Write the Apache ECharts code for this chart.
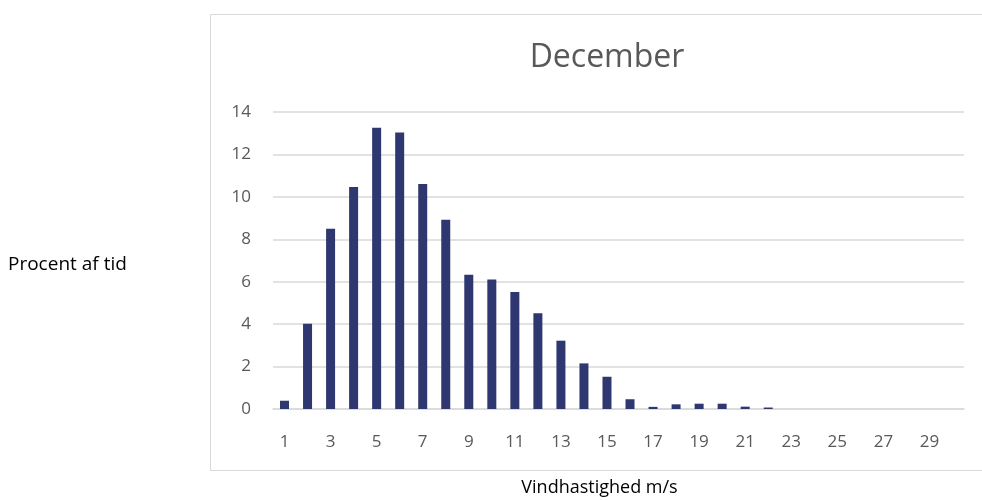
<!DOCTYPE html>
<html>
<head>
<meta charset="utf-8">
<script src="https://cdn.jsdelivr.net/npm/echarts@6/dist/echarts.min.js"></script>
<style>html,body{margin:0;padding:0;background:#fff}#c{width:982px;height:500px}</style>
</head>
<body>
<div id="c"></div>
<script>
var categories = ['1','2','3','4','5','6','7','8','9','10','11','12','13','14','15','16','17','18','19','20','21','22','23','24','25','26','27','28','29','30'];
var values = [0.39,4.02,8.5,10.47,13.26,13.03,10.61,8.92,6.33,6.1,5.52,4.51,3.22,2.15,1.52,0.46,0.1,0.22,0.25,0.25,0.11,0.07,0,0,0,0,0,0,0,0];
var yTicks = {min:0, max:14, interval:2};

var chart = echarts.init(document.getElementById('c'));
chart.setOption({
  animation:false,
  title:{text:'December', left:602, top:37, textAlign:'center',
    textStyle:{fontFamily:'Open Sans', fontSize:32, fontWeight:'normal', color:'#595959'}},
  graphic:[
    {type:'rect', shape:{x:210.5, y:14.5, width:800, height:456},
      style:{fill:'none', stroke:'#d9d9d9', lineWidth:1}, silent:true},
    {type:'text', x:8, y:265, style:{text:'Procent af tid', fontFamily:'Open Sans', fontSize:19,
      fill:'#000', verticalAlign:'middle', align:'left'}, silent:true}
  ],
  grid:{left:273, right:18, top:112, bottom:91, outerBoundsMode:'none', containLabel:false},
  xAxis:{type:'category', data:categories,
    name:'Vindhastighed m/s', nameLocation:'middle', nameGap:70,
    nameTextStyle:{fontFamily:'Open Sans', fontSize:18, color:'#000', padding:[0,38,0,0]},
    axisLine:{lineStyle:{color:'#d9d9d9', width:1.5}},
    axisTick:{show:false},
    axisLabel:{interval:1, margin:25, fontFamily:'Open Sans', fontSize:17, color:'#595959'}},
  yAxis:{type:'value', min:yTicks.min, max:yTicks.max, interval:yTicks.interval,
    axisLine:{show:false}, axisTick:{show:false},
    splitLine:{lineStyle:{color:'#d9d9d9', width:1.5}},
    axisLabel:{margin:22, fontFamily:'Open Sans', fontSize:17, color:'#595959'}},
  series:[{type:'bar', data:values, barWidth:9, itemStyle:{color:'#2e3770'}}]
});
</script>
</body>
</html>
